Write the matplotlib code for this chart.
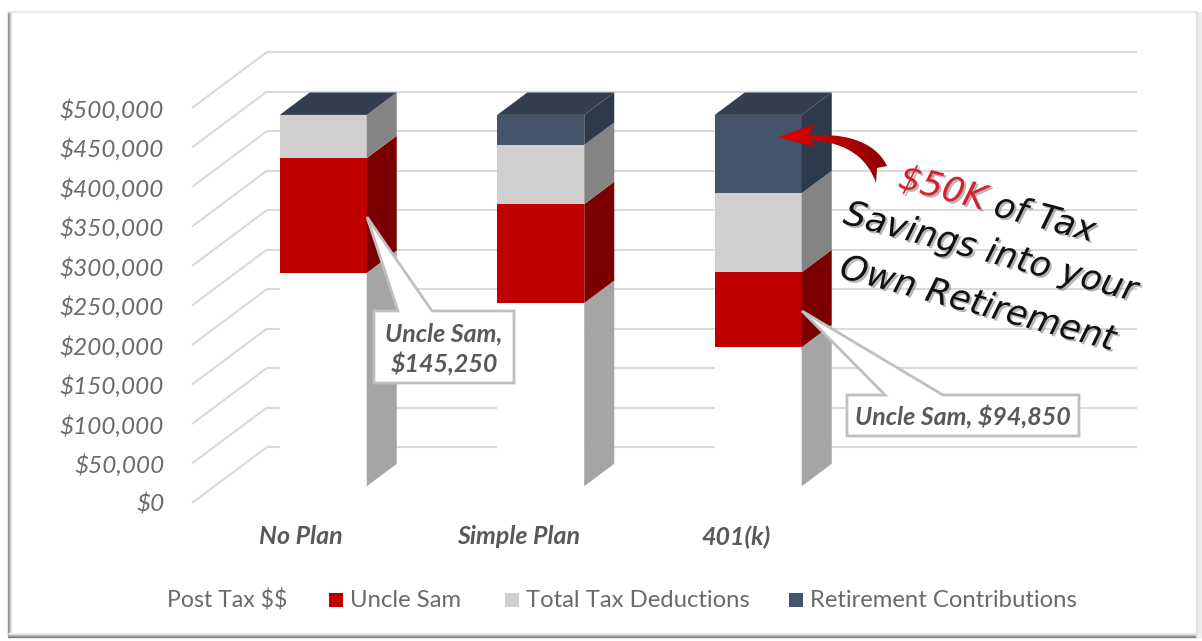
import matplotlib
matplotlib.use("Agg")
import matplotlib.pyplot as plt
import matplotlib.patheffects as pe
import numpy as np
from matplotlib.colors import LinearSegmentedColormap
from matplotlib.patches import PathPatch, Polygon, Rectangle
from matplotlib.path import Path
from matplotlib.ticker import FuncFormatter

plt.rcParams["font.family"] = ["Lato", "DejaVu Sans"]

# Chart data
plans = ["No Plan", "Simple Plan", "401(k)"]
post_tax = [270000, 232000, 176000]
uncle_sam = [145250, 125000, 94850]
deductions = [54750, 75000, 100000]
retirement = [0, 38000, 99150]
y_ticks = list(range(0, 500001, 50000))

series_names = ["Post Tax $$", "Uncle Sam", "Total Tax Deductions", "Retirement Contributions"]
front_colors = ["white", "#C00000", "#D0CECE", "#44546A"]
side_colors = ["#A5A5A5", "#7B0000", "#858484", "#2D3A4B"]
top_color = "#333F50"
grid_color = "#DADADA"
text_color = "#6A6A6A"

W, H = 1202, 641
fig = plt.figure(figsize=(W / 100, H / 100), dpi=100, facecolor="white")

# Overlay in pixel units for the frame, callouts and the note
over = fig.add_axes([0, 0, 1, 1], zorder=5)
over.set_xlim(0, W)
over.set_ylim(H, 0)
over.axis("off")
over.patch.set_alpha(0)

# Front plane of the 3D box, the floor and walls are offset from it
ax = fig.add_axes([192 / W, (H - 503) / H, 870 / W, 395 / H], zorder=2)
ax.set_xlim(-0.5, 3.5)
ax.set_ylim(0, 500000)
ax.patch.set_alpha(0)
for s in ax.spines.values():
    s.set_visible(False)

depth_x = 75 / 217.5
depth_y = 56 * 500000 / 395
z_front, z_back = 0.3, 0.7
bar_w = 0.4

# Gridlines on the side wall and the back wall
for v in y_ticks:
    ax.plot([-0.5, -0.5 + depth_x], [v, v + depth_y], color=grid_color, lw=1.5,
            clip_on=False, zorder=1, solid_capstyle="butt")
    ax.plot([-0.5 + depth_x, 3.5 + depth_x], [v + depth_y] * 2, color=grid_color, lw=1.5,
            clip_on=False, zorder=1, solid_capstyle="butt")

# Stacked columns: front face, side face, then the lid
stacks = [post_tax, uncle_sam, deductions, retirement]
for i in range(len(plans)):
    left = i + z_front * depth_x - bar_w / 2
    right = left + bar_w
    base = z_front * depth_y
    step_x = (z_back - z_front) * depth_x
    step_y = (z_back - z_front) * depth_y
    for values, front, side in zip(stacks, front_colors, side_colors):
        val = values[i]
        ax.bar(left, val, bar_w, bottom=base, align="edge", color=front, clip_on=False, zorder=3)
        ax.fill([right, right + step_x, right + step_x, right],
                [base, base + step_y, base + val + step_y, base + val],
                color=side, lw=0, clip_on=False, zorder=3)
        base += val
    ax.fill([left, right, right + step_x, left + step_x],
            [base, base, base + step_y, base + step_y],
            color=top_color, lw=0, clip_on=False, zorder=3)

ax.set_yticks(y_ticks)
ax.yaxis.set_major_formatter(FuncFormatter(lambda v, _: f"${v:,.0f}"))
ax.set_xticks(range(len(plans)))
ax.set_xticklabels(plans, fontsize=18, fontstyle="italic", fontweight="bold", color="#595959")
ax.tick_params(axis="y", length=0, pad=20, labelsize=17.5, labelcolor=text_color)
ax.tick_params(axis="x", length=0, pad=16)
for t in ax.get_yticklabels():
    t.set_fontstyle("italic")


def callout(box, base, tip, label, fontsize=18):
    x0, y0, x1, y1 = box
    pts = [(x0, y0), (base[0], y0), tip, (base[1], y0), (x1, y0), (x1, y1), (x0, y1)]
    over.add_patch(Polygon(pts, closed=True, fc="white", ec="#BFBFBF", lw=2, joinstyle="miter"))
    over.text((x0 + x1) / 2, (y0 + y1) / 2 + 2, label, ha="center", va="center", fontsize=fontsize,
              fontstyle="italic", fontweight="bold", color="#595959", linespacing=1.35)


callout((374, 311, 514, 383), (398, 432), (367, 217), f"Uncle Sam,\n${uncle_sam[0]:,}")
callout((847, 395, 1079, 436), (885, 943), (802, 311), f"Uncle Sam, ${uncle_sam[2]:,}")

# Curved red arrow with a left to right gradient
verts = [(778, 137), (815, 124), (808, 136),
         (840, 132), (875, 140), (887, 166),
         (877, 168), (876, 183),
         (868, 160), (850, 143), (811, 140),
         (815, 147), (778, 137)]
codes = [Path.MOVETO, Path.LINETO, Path.LINETO,
         Path.CURVE4, Path.CURVE4, Path.CURVE4,
         Path.LINETO, Path.LINETO,
         Path.CURVE4, Path.CURVE4, Path.CURVE4,
         Path.LINETO, Path.CLOSEPOLY]
arrow = PathPatch(Path(verts, codes), fc="none", ec="none", transform=over.transData)
over.add_patch(arrow)
cmap = LinearSegmentedColormap.from_list("arrow", ["#E30000", "#C00000", "#8A0000"])
grad = over.imshow(np.linspace(0, 1, 128).reshape(1, -1), extent=(778, 887, 183, 124), cmap=cmap,
                   aspect="auto", zorder=4)
grad.set_clip_path(arrow)
over.set_xlim(0, W)
over.set_ylim(H, 0)

# Slanted note with a soft shadow
shadow = [pe.withSimplePatchShadow(offset=(1.5, -1.5), shadow_rgbFace="#888888", alpha=0.6)]
note_style = dict(family="DejaVu Sans", fontstyle="oblique", fontsize=25, rotation=-15,
                  rotation_mode="anchor", ha="left", va="baseline", path_effects=shadow, zorder=6)
over.text(897, 187, "$50K", color="#D5202E", **note_style)
over.text(992, 215, "of Tax", color="#111111", **note_style)
over.text(842, 223, "Savings into your", color="#111111", **note_style)
over.text(838, 277, "Own Retirement", color="#111111", **note_style)

# Legend row
legend_base = 607
over.text(167, legend_base, series_names[0], color=text_color, fontsize=16.6, va="baseline", parse_math=False)
for name, color, sq_x in zip(series_names[1:], front_colors[1:], [329, 505, 789]):
    over.add_patch(Rectangle((sq_x, legend_base - 14), 14, 14, fc=color, ec="none"))
    over.text(sq_x + 21, legend_base, name, color=text_color, fontsize=17.2, va="baseline")

# Bevelled frame around the chart
for off, c in enumerate(["#8C8C8C", "#A5A5A5", "#C4C4C4", "#E2E2E2"]):
    over.plot([8 + off, 8 + off], [12, 637], color=c, lw=1, solid_capstyle="butt")
for off, c in enumerate(["#7F7F7F", "#909090", "#B4B4B4", "#D8D8D8", "#EFEFEF"]):
    over.plot([8, 1197], [637 - off] * 2, color=c, lw=1, solid_capstyle="butt")
over.plot([8, 1197], [12, 12], color="#E8E8E8", lw=1.5)
over.plot([1197, 1197], [12, 637], color="#E0E0E0", lw=1.5)
over.add_patch(Rectangle((1198, 12), 4, 626, fc="#EDEDED", ec="none"))

fig.savefig("out.png", dpi=100)
